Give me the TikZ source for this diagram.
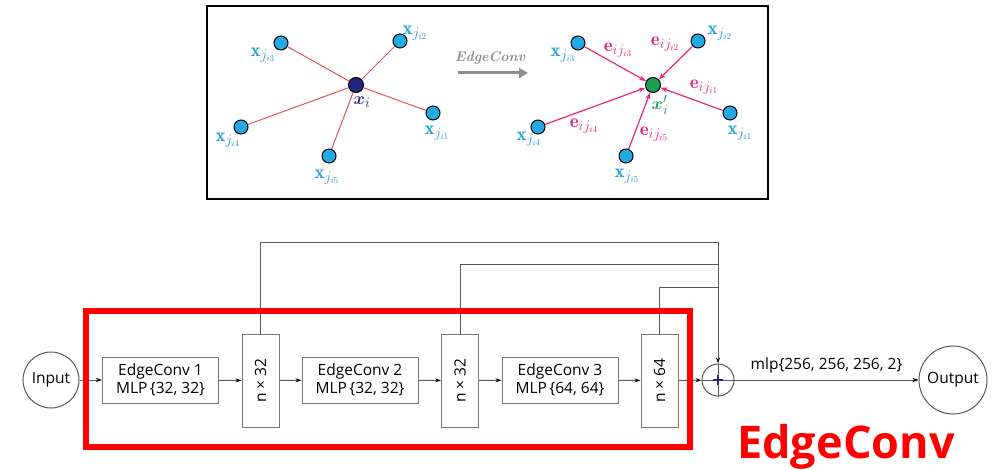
\documentclass[tikz,border=0pt]{standalone}
\usepackage{fontspec}
\usepackage{bm}
\usetikzlibrary{arrows.meta}
\newfontfamily\osans{Open Sans}
\definecolor{ptcyan}{HTML}{22AAE4}
\definecolor{lblcyan}{HTML}{1C9FD6}
\definecolor{edgered}{HTML}{E8505E}
\definecolor{edgemag}{HTML}{E5287C}
\definecolor{ctrnavy}{HTML}{26287E}
\definecolor{ctrgreen}{HTML}{1E9E55}
\definecolor{opgray}{HTML}{8E8E8E}
\definecolor{wire}{HTML}{5A5A5A}
\definecolor{boxline}{HTML}{7A7A7A}
\begin{document}
\begin{tikzpicture}[x=1pt,y=-1pt,
  pt/.style={circle,draw=black,line width=1pt,fill=ptcyan,minimum size=14pt,inner sep=0pt},
  ctr/.style={circle,draw=black,line width=1pt,minimum size=15pt,inner sep=0pt},
  lbl/.style={text=lblcyan,font=\fontsize{19}{20}\selectfont,inner sep=0pt},
  elbl/.style={text=edgemag,font=\fontsize{19}{20}\selectfont,inner sep=0pt},
  nb/.style={edgered,line width=1pt},
  msg/.style={edgemag,line width=1.2pt,-{Stealth[length=7pt,width=5pt]}},
  block/.style={draw=boxline,line width=1pt,minimum height=46pt,minimum width=116pt,align=center,inner sep=0pt,font=\osans\fontsize{15.5}{18}\selectfont},
  feat/.style={draw=boxline,line width=1pt,minimum height=93pt,minimum width=37pt,inner sep=0pt},
  ftxt/.style={rotate=90,font=\osans\fontsize{15.5}{17}\selectfont,inner sep=0pt},
  term/.style={circle,draw=wire,line width=1pt,inner sep=0pt,font=\osans\fontsize{15.5}{17}\selectfont},
  wireline/.style={wire,line width=1pt},
  flow/.style={wire,line width=1pt,-{Stealth[length=6pt,width=4pt,black]}}
]
\useasboundingbox (0,0) rectangle (1000,470);

% ---------- frame for the graph illustration ----------
\draw[line width=2pt] (207,6) rectangle (768,199);

% ---------- input neighbourhood ----------
\node[ctr,fill=ctrnavy] (c) at (356,85) {};
\node[pt] (a1) at (433,113) {};
\node[pt] (a2) at (400,41) {};
\node[pt] (a3) at (281,43) {};
\node[pt] (a4) at (241,127) {};
\node[pt] (a5) at (329,156) {};
\foreach \k in {1,...,5} \draw[nb] (c) -- (a\k);
\node[lbl] at (437,133) {$\mathbf{x}_{j_{i1}}$};
\node[lbl] at (415,33) {$\mathbf{x}_{j_{i2}}$};
\node[lbl] at (263,55) {$\mathbf{x}_{j_{i3}}$};
\node[lbl] at (228,140) {$\mathbf{x}_{j_{i4}}$};
\node[lbl] at (327,177) {$\mathbf{x}_{j_{i5}}$};
\node[text=ctrnavy,font=\fontsize{19}{20}\selectfont,inner sep=0pt] at (362,102) {$\bm{x}_i$};

% ---------- operator arrow ----------
\node[text=opgray,font=\fontsize{14}{15}\selectfont\itshape\bfseries,inner sep=0pt] (opname) at (490,58) {EdgeConv};
\coordinate (opA) at (458,73);
\coordinate (opB) at (528,73);
\draw[opgray,line width=3pt,-{Triangle[length=9pt,width=10pt]}] (opA) -- (opB);

% ---------- updated node with edge features ----------
\node[ctr,fill=ctrgreen] (d) at (653,85) {};
\node[pt] (b1) at (730,113) {};
\node[pt] (b2) at (698,41) {};
\node[pt] (b3) at (578,43) {};
\node[pt] (b4) at (538,127) {};
\node[pt] (b5) at (626,156) {};
\foreach \k in {1,...,5} \draw[msg] (b\k) -- (d);
\node[lbl] at (740,133) {$\mathbf{x}_{j_{i1}}$};
\node[lbl] at (720,33) {$\mathbf{x}_{j_{i2}}$};
\node[lbl] at (563,55) {$\mathbf{x}_{j_{i3}}$};
\node[lbl] at (529,139) {$\mathbf{x}_{j_{i4}}$};
\node[lbl] at (627,176) {$\mathbf{x}_{j_{i5}}$};
\node[elbl] at (704,87) {$\mathbf{e}_{ij_{i1}}$};
\node[elbl] at (665,44) {$\mathbf{e}_{ij_{i2}}$};
\node[elbl] at (618,50) {$\mathbf{e}_{ij_{i3}}$};
\node[elbl] at (584,126) {$\mathbf{e}_{ij_{i4}}$};
\node[elbl] at (654,134) {$\mathbf{e}_{ij_{i5}}$};
\node[text=ctrgreen,font=\fontsize{19}{20}\selectfont,inner sep=0pt] at (660,105) {$\bm{x}'_i$};

% ---------- network pipeline ----------
\node[term,minimum size=56pt] (inp) at (51,380) {Input};
\node[block] (ec1) at (160.5,380) {EdgeConv 1\\MLP\,\{32, 32\}};
\node[feat] (f1) at (260.5,380.5) {};
\node[ftxt] at (f1) {n × 32};
\node[block] (ec2) at (360,380) {EdgeConv 2\\MLP\,\{32, 32\}};
\node[feat] (f2) at (460,380.5) {};
\node[ftxt] at (f2) {n × 32};
\node[block] (ec3) at (560,380) {EdgeConv 3\\MLP\,\{64, 64\}};
\node[feat] (f3) at (659.5,380.5) {};
\node[ftxt] at (f3) {n × 64};
\node[circle,draw=wire,line width=1pt,minimum size=32pt,inner sep=0pt] (sum) at (718,380) {};
\node[term,minimum size=68pt] (out) at (953,380) {Output};

\draw[flow] (inp) -- (ec1);
\draw[flow] (ec1) -- (f1);
\draw[flow] (f1) -- (ec2);
\draw[flow] (ec2) -- (f2);
\draw[flow] (f2) -- (ec3);
\draw[flow] (ec3) -- (f3);
\draw[flow] (f3) -- (sum);
\draw[flow] (sum) -- node[above=3pt,font=\osans\fontsize{15.5}{17}\selectfont,text=black] {mlp\{256, 256, 256, 2\}} (out);

% plus sign inside the aggregation node
\draw[wireline] (sum.west) -- (sum.east);
\draw[wireline] (sum.north) -- (sum.south);
\draw[ctrnavy,line width=1.6pt] ([xshift=-5pt]sum.center) -- ([xshift=5pt]sum.center);
\draw[ctrnavy,line width=1.6pt] ([yshift=-5pt]sum.center) -- ([yshift=5pt]sum.center);

% shortcut connections
\coordinate (t1) at (260.5,242);
\coordinate (t2) at (460,264);
\coordinate (t3) at (659.5,287);
\coordinate (bus) at (718,242);
\draw[wireline] (f1.north) -- (t1) -- (bus);
\draw[wireline] (f2.north) -- (t2) -- (bus |- t2);
\draw[wireline] (f3.north) -- (t3) -- (bus |- t3);
\draw[flow] (bus) -- (sum.north);

% ---------- highlighted EdgeConv stack ----------
\draw[red,line width=6pt] (86,311) rectangle (690,447);
\node[text=red,font=\osans\bfseries\fontsize{45}{50}\selectfont,inner sep=0pt,anchor=base] (tag) at (846,458) {EdgeConv};
\end{tikzpicture}
\end{document}
